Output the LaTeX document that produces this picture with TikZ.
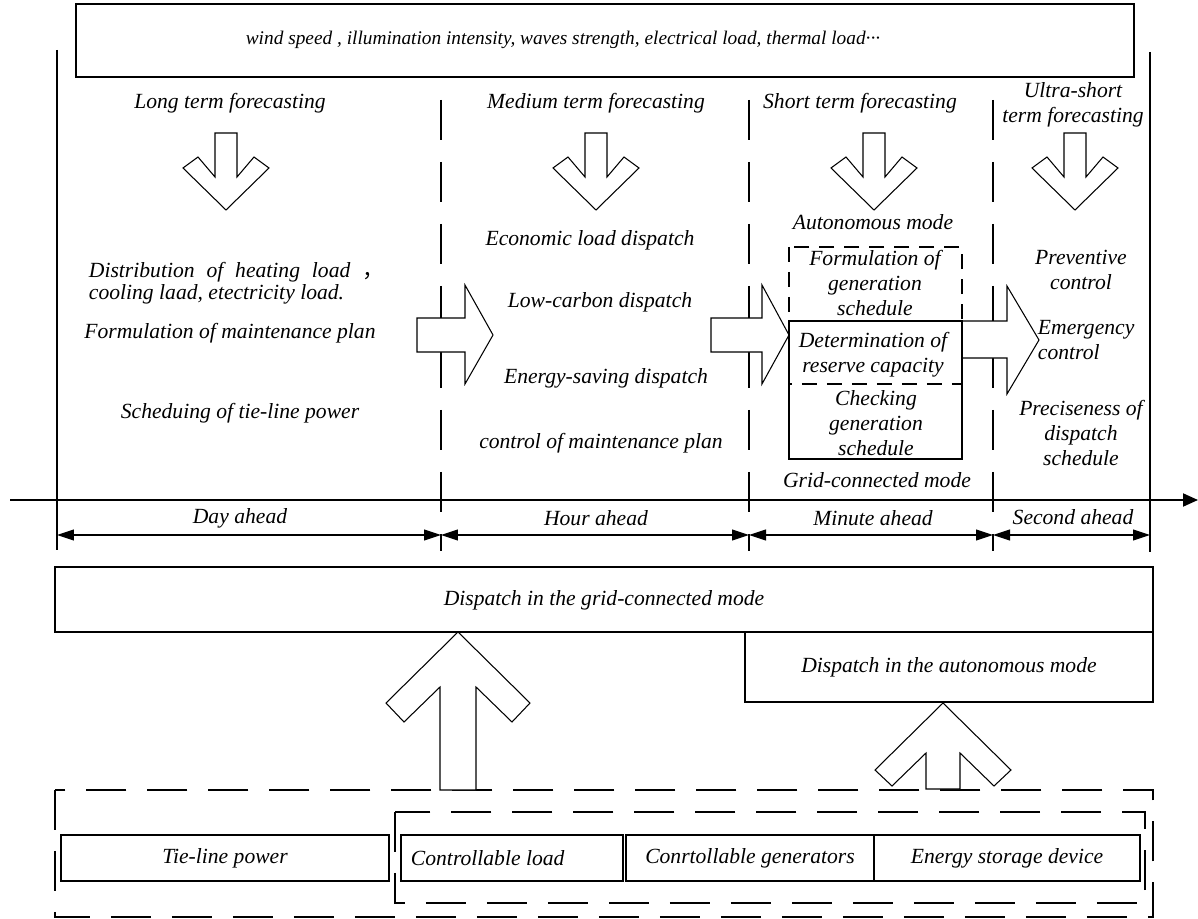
\documentclass[tikz,border=0pt]{standalone}
\usepackage{fontspec}
\setmainfont{Liberation Serif}
\newfontfamily\cjk{Noto Sans CJK SC}
\usetikzlibrary{arrows.meta}

\begin{document}
\begin{tikzpicture}[x=0.02cm, y=-0.02cm, line width=1.1pt,
    font=\itshape\fontsize{12.3}{14.2}\selectfont,
    box/.style={draw, fill=white, line width=1.1pt},
    blockarrow/.style={draw, fill=white, line width=0.6pt},
    sep/.style={line width=1.1pt, dash pattern=on 0.8cm off 0.44cm},
    outer/.style={line width=1.1pt, dash pattern=on 0.8cm off 0.42cm},
    modebox/.style={line width=1.1pt, dash pattern=on 0.3cm off 0.2cm},
    dimline/.style={line width=0.6pt,
            {Triangle[length=3.4mm,width=2.2mm]}-{Triangle[length=3.4mm,width=2.2mm]}},
    lbl/.style={align=center, inner sep=0pt}
  ]
    \useasboundingbox (0,0) rectangle (1198,919);

    % time scale separators
    \foreach \sx in {441,749,993} {
        \draw[sep] (\sx,38) -- (\sx,551);
    }
    \draw[box] (76,4) rectangle (1134,77);
    \node[lbl, font=\itshape\fontsize{11}{13}\selectfont] (drivers) at (563,40)
        {wind speed , illumination intensity, waves strength, electrical load, thermal load···};

    \draw (57,50) -- (57,550);
    \draw (1150,52) -- (1150,552);

    % time axis
    \coordinate (ax0) at (10,500);
    \coordinate (ax1) at (1198,500);
    \draw[-{Triangle[length=3mm,width=2.6mm]}] (ax0) -- (ax1);

    \coordinate (d0) at (57,535);
    \coordinate (d1) at (441,535);
    \coordinate (d2) at (749,535);
    \coordinate (d3) at (993,535);
    \coordinate (d4) at (1150,535);
    \draw[dimline] (d0) -- (d1);
    \draw[dimline] (d1) -- (d2);
    \draw[dimline] (d2) -- (d3);
    \draw[dimline] (d3) -- (d4);
    \node[lbl] (day) at (240,518) {Day ahead};
    \node[lbl] (hour) at (596,518) {Hour ahead};
    \node[lbl] (minute) at (873,518) {Minute ahead};
    \node[lbl] (second) at (1073,517) {Second ahead};

    % forecasting
    \node[lbl] (longt) at (230,103) {Long term forecasting};
    \node[lbl] (medt) at (596,103) {Medium term forecasting};
    \node[lbl] (shortt) at (860,103) {Short term forecasting};
    \node[lbl] (ultrat) at (1073,105) {Ultra-short\\term forecasting};

    \foreach \cx in {226,596,874,1075} {
        \begin{scope}[shift={(\cx,0)}]
            \draw[blockarrow] (-11,133) -- (-11,177) -- (-28,157) -- (-43,168) -- (0,210)
                -- (43,168) -- (28,157) -- (11,177) -- (11,133) -- cycle;
        \end{scope}
    }

    % left column
    \node[lbl, anchor=west, text width=5.9cm, align=justify,
          font=\itshape\fontsize{12.3}{12.5}\selectfont] (distr) at (88,283)
          {Distribution of heating load {\cjk ，}\linebreak cooling laad, etectricity load.};
    \node[lbl] (formu) at (230,333) {Formulation of maintenance plan};
    \node[lbl] (tiesch) at (240,413) {Scheduing of tie-line power};

    % middle column
    \node[lbl] (econ) at (590,240) {Economic load dispatch};
    \node[lbl] (lowc) at (600,302) {Low-carbon dispatch};
    \node[lbl] (esav) at (606,378) {Energy-saving dispatch};
    \node[lbl] (mctrl) at (601,443) {control of maintenance plan};

    % transfer arrows
    \draw[blockarrow] (417,318) -- (465,318) -- (465,285) -- (493,335) -- (465,384)
        -- (465,352) -- (417,352) -- cycle;
    \draw[blockarrow] (711,318) -- (762,318) -- (762,285) -- (789,335) -- (762,384)
        -- (762,352) -- (711,352) -- cycle;
    \draw[blockarrow] (962,321) -- (1007,321) -- (1007,286) -- (1039,340) -- (1007,394)
        -- (1007,358) -- (962,358) -- cycle;

    % short term column
    \node[lbl] (automode) at (873,222) {Autonomous mode};
    \draw[box] (789,321) rectangle (962,459);
    \draw[modebox] (789,247) rectangle (962,384);
    \node[lbl] (genform) at (875,283) {Formulation of\\generation\\schedule};
    \node[lbl] (reserve) at (873,355) {Determination of\\reserve capacity};
    \node[lbl] (gencheck) at (876,423) {Checking\\generation\\schedule};
    \node[lbl] (gridmode) at (877,480) {Grid-connected mode};

    % ultra-short column
    \node[lbl] (prevent) at (1081,270) {Preventive\\control};
    \node[lbl, align=left, anchor=west] (emerg) at (1037,340) {Emergency\\control};
    \node[lbl] (precise) at (1081,433) {Preciseness of\\dispatch\\schedule};

    % dispatch modes
    \draw[box] (55,567) rectangle (1153,632);
    \node[lbl] (griddisp) at (604,600) {Dispatch in the grid-connected mode};
    \draw[box] (745,632) rectangle (1153,702);
    \node[lbl] (autodisp) at (949,667) {Dispatch in the autonomous mode};

    % controllable resources
    \draw[outer] (55,790) rectangle (1153,917);
    \draw[outer] (395,812) rectangle (1145,903);
    \draw[box] (61,835) rectangle (389,881);
    \node[lbl] (tieline) at (225,858) {Tie-line power};
    \draw[box] (401,835) rectangle (623,881);
    \node[lbl, anchor=west] (ctload) at (410,858) {Controllable load};
    \draw[box] (626,835) rectangle (874,881);
    \node[lbl] (ctgen) at (750,858) {Conrtollable generators};
    \draw[box] (874,835) rectangle (1140,881);
    \node[lbl] (storage) at (1007,858) {Energy storage device};

    \begin{scope}[shift={(458,0)}]
        \draw[blockarrow] (-18,790) -- (-18,687) -- (-54,722) -- (-72,703) -- (0,632)
            -- (72,703) -- (54,722) -- (18,687) -- (18,790) -- cycle;
    \end{scope}
    \begin{scope}[shift={(943,0)}]
        \draw[blockarrow] (-17,789) -- (-17,753) -- (-51,786) -- (-68,770) -- (0,703)
            -- (68,770) -- (51,786) -- (17,753) -- (17,789) -- cycle;
    \end{scope}

\end{tikzpicture}
\end{document}
